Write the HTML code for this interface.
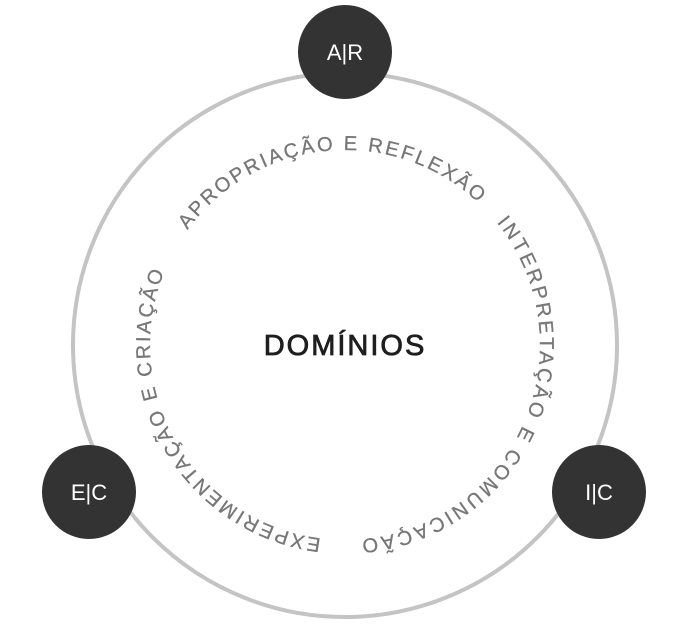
<!DOCTYPE html>
<html><head><meta charset="utf-8"><style>
html,body{margin:0;padding:0;background:#fff;}
svg{display:block;}
</style></head><body>
<svg width="688" height="624" viewBox="0 0 688 624" xmlns="http://www.w3.org/2000/svg">
<defs>
<path id="ring" d="M345,540 A195,195 0 1 1 345,150 A195,195 0 1 1 345,540"/>
</defs>
<circle cx="345" cy="345" r="272" fill="none" stroke="#c4c4c4" stroke-width="4"/>
<g font-family="Liberation Sans, sans-serif" font-size="20" fill="#777" stroke="#777" stroke-width="0.3">
<text><textPath href="#ring" startOffset="24" textLength="357" lengthAdjust="spacing">EXPERIMENTAÇÃO E CRIAÇÃO</textPath></text>
<text><textPath href="#ring" startOffset="429" textLength="330" lengthAdjust="spacing">APROPRIAÇÃO E REFLEXÃO</textPath></text>
<text><textPath href="#ring" startOffset="786" textLength="422" lengthAdjust="spacing">INTERPRETAÇÃO E COMUNICAÇÃO</textPath></text>
</g>
<text x="345" y="355" text-anchor="middle" font-family="Liberation Sans, sans-serif" font-size="29" letter-spacing="2" fill="#1e1e1e" stroke="#1e1e1e" stroke-width="0.8">DOMÍNIOS</text>
<g fill="#333">
<circle cx="345" cy="52" r="47"/>
<circle cx="89" cy="492" r="47"/>
<circle cx="599" cy="492" r="47"/>
</g>
<g font-family="Liberation Sans, sans-serif" font-size="22" fill="#fff" text-anchor="middle">
<text x="345" y="60">A|R</text>
<text x="89" y="500">E|C</text>
<text x="599" y="500">I|C</text>
</g>
</svg>
</body></html>
